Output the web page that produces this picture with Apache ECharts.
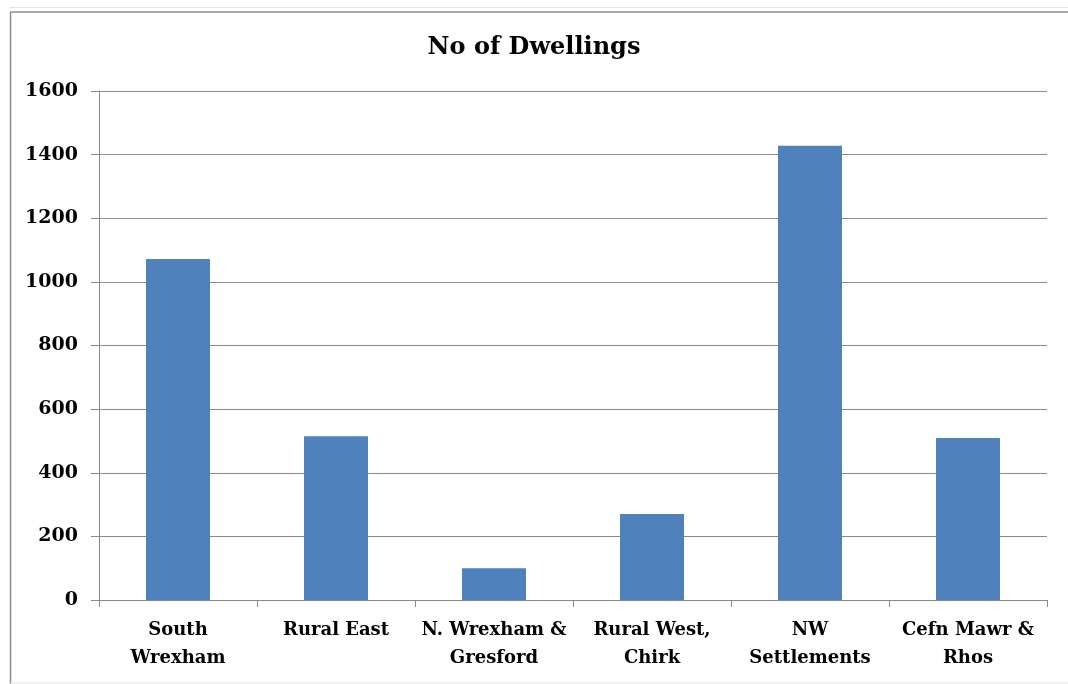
<!DOCTYPE html>
<html>
<head>
<meta charset="utf-8">
<script src="https://cdn.jsdelivr.net/npm/echarts@6/dist/echarts.min.js"></script>
<style>
html,body{margin:0;padding:0;background:#fff;}
#chart{width:1068px;height:684px;}
</style>
</head>
<body>
<div id="chart"></div>
<script>
const chartTitle = 'No of Dwellings';
const categories = ['South\nWrexham', 'Rural East', 'N. Wrexham &\nGresford', 'Rural West,\nChirk', 'NW\nSettlements', 'Cefn Mawr &\nRhos'];
const dwellings = [1072, 515, 100, 270, 1428, 509];

const font = 'DejaVu Serif';
const chart = echarts.init(document.getElementById('chart'), null, {renderer: 'canvas'});
chart.setOption({
  backgroundColor: '#ffffff',
  animation: false,
  title: {
    text: chartTitle,
    left: 'center',
    top: 31,
    textStyle: {fontFamily: font, fontWeight: 'bold', fontSize: 24, color: '#000'}
  },
  grid: {left: 99, right: 21, top: 91, bottom: 84, containLabel: false},
  xAxis: {
    type: 'category',
    data: categories,
    axisLine: {lineStyle: {color: '#8a8a8a', width: 1}},
    axisTick: {show: true, alignWithLabel: false, length: 7, lineStyle: {color: '#8a8a8a'}},
    axisLabel: {
      interval: 0, margin: 16, color: '#000',
      fontFamily: font, fontWeight: 'bold', fontSize: 18, lineHeight: 28
    },
    splitLine: {show: false}
  },
  yAxis: {
    type: 'value',
    min: 0, max: 1600, interval: 200,
    axisLine: {show: true, lineStyle: {color: '#8a8a8a', width: 1}},
    axisTick: {show: true, length: 8, lineStyle: {color: '#8a8a8a'}},
    axisLabel: {margin: 21, color: '#000', fontFamily: font, fontWeight: 'bold', fontSize: 19,
      formatter: function (v) { return String(v); }},
    splitLine: {show: true, lineStyle: {color: '#8a8a8a', width: 1}}
  },
  series: [{
    type: 'bar',
    data: dwellings,
    barWidth: '40.5%',
    itemStyle: {color: '#4F81BD'}
  }],
  graphic: [
    {type: 'line', shape: {x1: 10, y1: 7.5, x2: 1068, y2: 7.5}, style: {stroke: '#dfe5ef', lineWidth: 1}, silent: true},
    {type: 'line', shape: {x1: 10.5, y1: 12, x2: 1068, y2: 12}, style: {stroke: '#8c8c8c', lineWidth: 1.5}, silent: true},
    {type: 'line', shape: {x1: 10.5, y1: 12, x2: 10.5, y2: 684}, style: {stroke: '#8c8c8c', lineWidth: 1.5}, silent: true},
    {type: 'line', shape: {x1: 10, y1: 683, x2: 1068, y2: 683}, style: {stroke: '#e6e6e6', lineWidth: 1}, silent: true}
  ]
});
</script>
</body>
</html>
